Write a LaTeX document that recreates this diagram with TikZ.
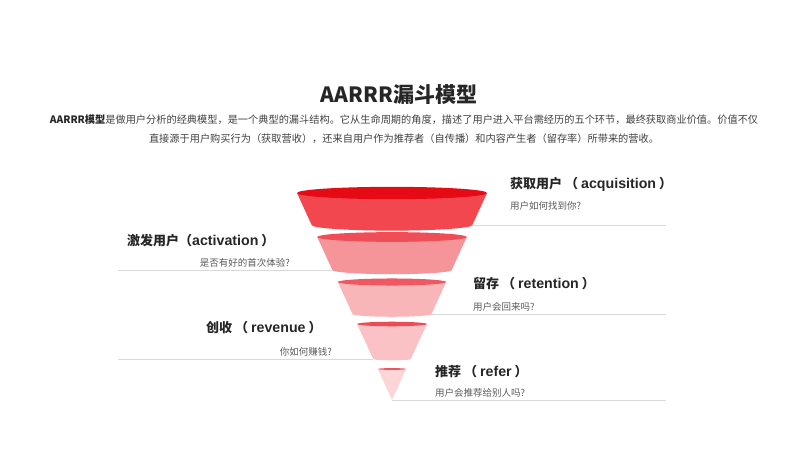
\documentclass[tikz,border=0pt]{standalone}
\usepackage{fontspec}
\setmainfont{Noto Sans CJK SC}
\newfontfamily\latfont{Liberation Sans}
\newcommand{\lat}[1]{{\latfont\fontsize{14.2}{16}\selectfont #1}}

\definecolor{txtdark}{HTML}{262626}
\definecolor{txtgray}{HTML}{404040}
\definecolor{subgray}{HTML}{595959}
\definecolor{rulegray}{HTML}{D9D9D9}
\definecolor{body1}{HTML}{F2474F}
\definecolor{rim1}{HTML}{E50A14}
\definecolor{body2}{HTML}{F5959A}
\definecolor{rim2}{HTML}{F04E57}
\definecolor{body3}{HTML}{F9B6B9}
\definecolor{rim3}{HTML}{EF5860}
\definecolor{body4}{HTML}{FAC2C4}
\definecolor{rim4}{HTML}{EE4C55}
\definecolor{body5}{HTML}{FCD6D7}
\definecolor{rim5}{HTML}{EE565E}

\tikzset{
  maintitle/.style={inner sep=0pt, text=txtdark, font=\bfseries\fontsize{21}{25}\selectfont},
  intro/.style={inner sep=0pt, text=txtgray, align=center, font=\fontsize{10.2}{19}\selectfont},
  stagetitle/.style={inner sep=0pt, text=txtdark, font=\bfseries\fontsize{13}{16}\selectfont},
  stagesub/.style={inner sep=0pt, text=subgray, font=\fontsize{9.5}{12}\selectfont},
  rule/.style={draw=rulegray, line width=0.8pt}
}

\begin{document}
\begin{tikzpicture}[x=1pt, y=-1pt]
	\useasboundingbox (0,0) rectangle (800,450);

	% Title and intro
	\node[maintitle] (title) at (399,95) {AARRR漏斗模型};
	\node[intro] (intro) at (404,129.5) {{\bfseries\color{txtdark}AARRR模型}是做用户分析的经典模型，是一个典型的漏斗结构。它从生命周期的角度，描述了用户进入平台需经历的五个环节，最终获取商业价值。价值不仅\\直接源于用户购买行为（获取营收），还来自用户作为推荐者（自传播）和内容产生者（留存率）所带来的营收。};

	% Funnel segments (cone tip at 392,400)
	\foreach \i/\t/\b in {1/193/225, 2/237/270, 3/282/314, 4/324/359, 5/369/400} {
		\pgfmathsetmacro{\hwt}{0.459*(400-\t)}
		\pgfmathsetmacro{\hwb}{0.459*(400-\b)}
		\coordinate (tl\i) at (392-\hwt,\t);
		\coordinate (tr\i) at (392+\hwt,\t);
		\coordinate (bl\i) at (392-\hwb,\b);
		\coordinate (br\i) at (392+\hwb,\b);
		\fill[body\i] (tl\i) -- (bl\i) arc[start angle=180, end angle=0, x radius=\hwb, y radius=0.07*\hwb] -- (tr\i) -- cycle;
		\fill[rim\i] (392,\t) ellipse[x radius=\hwt, y radius=0.065*\hwt];
	}

	% Rule ends
	\coordinate (rightend) at (666,0);
	\coordinate (leftend) at (118,0);

	% Stage labels
	\node[stagetitle, anchor=west] (acq) at (510,184) {获取用户 （ \lat{acquisition} ）};
	\node[stagesub, anchor=west] (acqsub) at (510,206) {用户如何找到你?};
	\node[stagetitle, anchor=west] (act) at (127,241) {激发用户（\lat{activation} ）};
	\node[stagesub, anchor=east] (actsub) at (290,263) {是否有好的首次体验?};
	\node[stagetitle, anchor=west] (ret) at (473,284) {留存 （ \lat{retention} ）};
	\node[stagesub, anchor=west] (retsub) at (473,307) {用户会回来吗?};
	\node[stagetitle, anchor=west] (rev) at (206,328) {创收 （ \lat{revenue} ）};
	\node[stagesub, anchor=east] (revsub) at (332,352) {你如何赚钱?};
	\node[stagetitle, anchor=west] (ref) at (435,372) {推荐 （ \lat{refer} ）};
	\node[stagesub, anchor=west] (refsub) at (435,393) {用户会推荐给别人吗?};

	% Rules
	\draw[rule] (br1) -- (br1 -| rightend);
	\draw[rule] (bl2) -- (bl2 -| leftend);
	\draw[rule] (br3) -- (br3 -| rightend);
	\draw[rule] (bl4) -- (bl4 -| leftend);
	\draw[rule] (br5) -- (br5 -| rightend);
\end{tikzpicture}
\end{document}
